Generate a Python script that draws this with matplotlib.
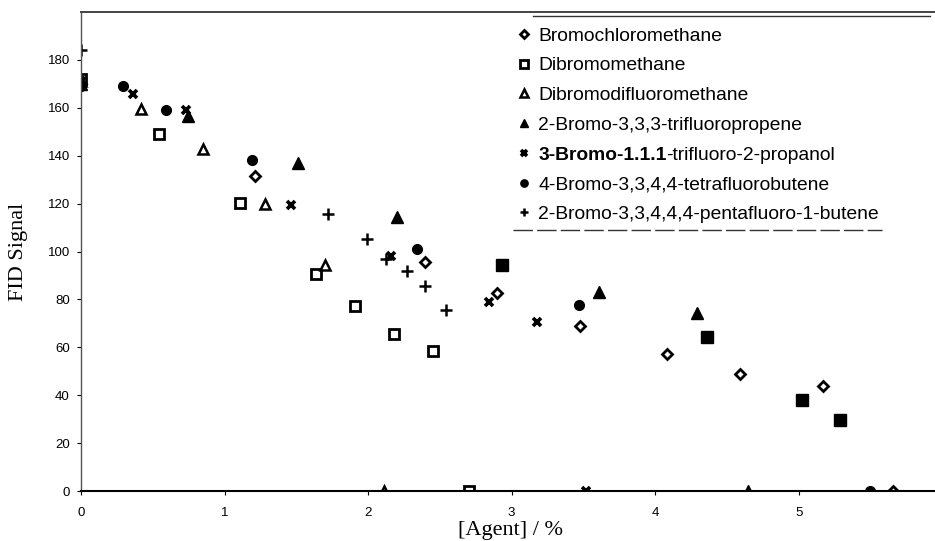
import numpy as np
import matplotlib
matplotlib.use("Agg")
import matplotlib.pyplot as plt
from matplotlib.lines import Line2D

# ---------------------------------------------------------------------------
# Data: [Agent] / % versus FID signal
# ---------------------------------------------------------------------------

bcm_x = [0.0, 1.21, 2.40, 2.90, 3.48, 4.08, 4.59, 5.17, 5.66]
bcm_y = [170, 131.4, 95.5, 82.5, 69.0, 57.0, 49.0, 44.0, 0]

dbm_x = [0.0, 0.546, 1.11, 1.64, 1.91, 2.18, 2.45, 2.70]
dbm_y = [172, 149.2, 120.3, 90.4, 77.2, 65.7, 58.5, 0]

dbdfm_x = [0.0, 0.42, 0.85, 1.28, 1.70, 2.11]
dbdfm_y = [171, 159.7, 142.8, 120.0, 94.3, 0]

btfp_x = [0.0, 0.745, 1.51, 2.20, 3.61, 4.29, 4.65]
btfp_y = [170, 156.7, 137.0, 114.3, 83.0, 74.2, 0]

btfpol_x = [0.0, 0.365, 0.73, 1.46, 2.16, 2.84, 3.18, 3.52]
btfpol_y = [171, 165.8, 158.9, 119.3, 98.3, 78.9, 70.5, 0]

btfb_x = [0.0, 0.29, 0.59, 1.19, 2.34, 3.47, 5.50]
btfb_y = [169, 168.9, 159.2, 138.0, 101.2, 77.5, 0]

bpfb_x = [0.0, 1.72, 1.99, 2.125, 2.27, 2.40, 2.54]
bpfb_y = [184, 115.7, 105.4, 96.7, 91.8, 85.5, 75.4]

# filled squares, no legend entry in the original
unk_x = [2.93, 4.36, 5.02, 5.29]
unk_y = [94.2, 64.3, 37.8, 29.6]

labels = [
    "Bromochloromethane",
    "Dibromomethane",
    "Dibromodifluoromethane",
    "2-Bromo-3,3,3-trifluoropropene",
    "3-Bromo-1.1.1-trifluoro-2-propanol",
    "4-Bromo-3,3,4,4-tetrafluorobutene",
    "2-Bromo-3,3,4,4,4-pentafluoro-1-butene",
]

x_ticks = [0, 1, 2, 3, 4, 5]
y_ticks = [0, 20, 40, 60, 80, 100, 120, 140, 160, 180]

# ---------------------------------------------------------------------------
# Plot
# ---------------------------------------------------------------------------

plt.rcParams["font.family"] = ["Liberation Sans", "DejaVu Sans"]

W, H = 935, 541
LEG_FS = 13.9
fig = plt.figure(figsize=(W / 100, H / 100), dpi=100)
ax = fig.add_axes([81 / W, (H - 491) / H, 1 - 81 / W, (491 - 12) / H])

k = dict(color="black", linestyle="none")
ax.plot(bcm_x, bcm_y, marker="D", ms=5, mfc="white", mew=2, label=labels[0], **k)
ax.plot(dbm_x, dbm_y, marker="s", ms=7.5, mfc="white", mew=2, label=labels[1], **k)
ax.plot(dbdfm_x, dbdfm_y, marker="^", ms=7, mfc="white", mew=1.8, label=labels[2], **k)
ax.plot(btfp_x, btfp_y, marker="^", ms=8, label=labels[3], **k)
ax.plot(btfpol_x, btfpol_y, marker="x", ms=6, mew=2.6, label=labels[4], **k)
ax.plot(btfb_x, btfb_y, marker="o", ms=7, label=labels[5], **k)
ax.plot(bpfb_x, bpfb_y, marker="+", ms=8, mew=1.8, label=labels[6], **k)
ax.plot(unk_x, unk_y, marker="s", ms=8, **k)

ax.set_xlim(0, 5.95)
ax.set_ylim(0, 200)
ax.set_xticks(x_ticks)
ax.set_yticks(y_ticks)
ax.tick_params(axis="both", direction="out", length=3, width=0.8, labelsize=9.5)
ax.tick_params(axis="y", pad=5)
ax.tick_params(axis="x", pad=8.5)

ax.spines["right"].set_visible(False)
ax.spines["top"].set_color("#444444")
ax.spines["top"].set_linewidth(1.4)
ax.spines["left"].set_color("#555555")
ax.spines["left"].set_linewidth(1.0)
ax.spines["bottom"].set_linewidth(1.5)

ax.set_xlabel("[Agent] / %", family="Liberation Serif", fontsize=16)
ax.set_ylabel("FID Signal", family="Liberation Serif", fontsize=16, labelpad=14)
ax.xaxis.set_label_coords((511 - 81) / (W - 81), -0.063)

leg = ax.legend(
    loc="upper left",
    bbox_to_anchor=(516 / W, 1 - 27 / H),
    bbox_transform=fig.transFigure,
    frameon=False,
    fontsize=LEG_FS,
    handlelength=0.8,
    handletextpad=0.35,
    labelspacing=0.635,
    borderpad=0,
    borderaxespad=0,
    markerscale=0.75,
)

# bold first half of the propanol label, like the original
t_bold = leg.get_texts()[4]
t_bold.set_text("3-Bromo-1.1.1")
t_bold.set_fontweight("bold")
ax.annotate("-trifluoro-2-propanol", xy=(1, 0), xycoords=t_bold,
            va="bottom", ha="left", fontsize=LEG_FS, zorder=10)

# second rule above the legend and the underline below the last entry
fig.add_artist(Line2D([533 / W, 930 / W], [1 - 15.7 / H] * 2, color="#333333", lw=1.0))
fig.add_artist(Line2D([513 / W, 882 / W], [1 - 230 / H] * 2, color="#333333", lw=1.0,
                      linestyle=(0, (14, 3))))

fig.savefig("out.png", dpi=100)
